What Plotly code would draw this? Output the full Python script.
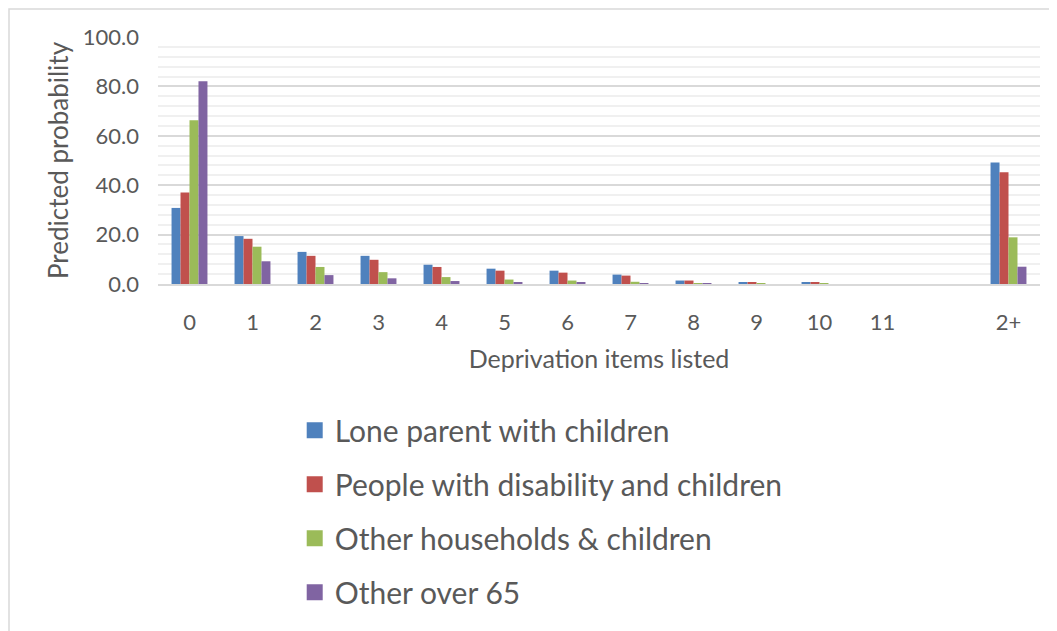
import plotly.graph_objects as go

# categories (blank slot before 2+ as in the original)
categories = ["0", "1", "2", "3", "4", "5", "6", "7", "8", "9", "10", "11", " ", "2+"]

series_names = [
    "Lone parent with children",
    "People with disability and children",
    "Other households & children",
    "Other over 65",
]

lone_parent = [30.8, 19.4, 13.0, 11.4, 7.8, 6.2, 5.4, 3.8, 1.4, 0.6, 0.6, 0.0, None, 49.2]
disability = [37.0, 18.3, 11.4, 9.8, 6.9, 5.4, 4.6, 3.4, 1.4, 0.6, 0.6, 0.0, None, 45.2]
other_households = [66.3, 15.1, 6.9, 4.8, 2.8, 1.8, 1.4, 0.9, 0.3, 0.1, 0.05, 0.0, None, 18.9]
over_65 = [82.1, 9.2, 3.6, 2.3, 1.2, 0.8, 0.5, 0.3, 0.1, 0.0, 0.0, 0.0, None, 7.0]

colors = ["#4F81BD", "#C0504D", "#9BBB59", "#8064A2"]
text_color = "#595959"
font_family = "Lato, 'Open Sans', sans-serif"

fig = go.Figure()
for i, (name, vals) in enumerate(zip(series_names, [lone_parent, disability, other_households, over_65])):
    fig.add_trace(go.Bar(
        x=categories,
        y=vals,
        name=name,
        showlegend=False,
        marker=dict(color=colors[i], line=dict(width=0)),
    ))
    # legend proxy with a larger square swatch
    fig.add_trace(go.Scatter(
        x=[None], y=[None],
        mode="markers",
        name=name,
        legendgroup=name,
        marker=dict(symbol="square", size=18, color=colors[i]),
        hoverinfo="skip",
    ))

# page body adds an 8px margin, so the figure is 8px smaller than the window
fig.update_layout(
    width=1049,
    height=623,
    margin=dict(l=150, r=17, t=29, b=343),
    paper_bgcolor="white",
    plot_bgcolor="white",
    barmode="group",
    bargap=0.43,
    bargroupgap=0,
    font=dict(family=font_family, color=text_color),
    showlegend=True,
    legend=dict(
        x=0.155, xanchor="left",
        y=-0.487, yanchor="top",
        font=dict(size=30, color=text_color),
        tracegroupgap=12,
        itemsizing="trace",
        bgcolor="rgba(0,0,0,0)",
    ),
)

fig.update_xaxes(
    type="category",
    categoryorder="array",
    categoryarray=categories,
    showgrid=False,
    showline=True,
    linecolor="#d9d9d9",
    linewidth=2,
    ticks="",
    ticklabelstandoff=18,
    tickfont=dict(size=22, color=text_color),
    title=dict(text="Deprivation items listed", font=dict(size=25, color=text_color), standoff=16),
)

fig.update_yaxes(
    range=[0, 100],
    dtick=20,
    tickformat=".1f",
    showgrid=True,
    gridcolor="#d9d9d9",
    gridwidth=1.5,
    minor=dict(dtick=4, showgrid=True, gridcolor="#f0f0f0", gridwidth=1.5),
    zeroline=False,
    showline=False,
    ticks="",
    ticklabelstandoff=18,
    tickfont=dict(size=22, color=text_color),
    title=dict(text="Predicted probability", font=dict(size=26, color=text_color), standoff=6),
)

# outer chart border
fig.add_shape(
    type="rect", xref="paper", yref="paper",
    x0=(1 - 150) / 882, x1=(1070 - 150) / 882,
    y0=(280 - 640) / 251, y1=(280 - 0.5) / 251,
    line=dict(color="#d9d9d9", width=1.5),
    fillcolor="rgba(0,0,0,0)",
    layer="below",
)

fig.write_html("out.html")
